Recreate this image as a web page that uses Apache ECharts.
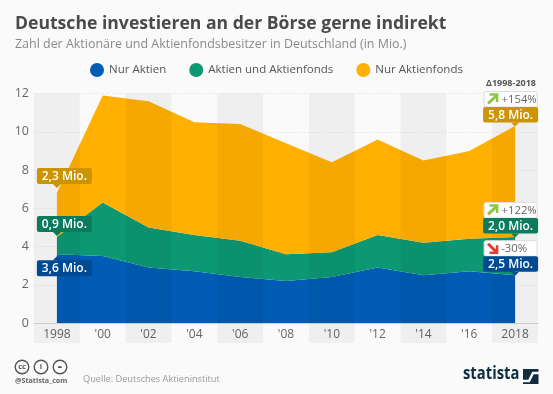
<!DOCTYPE html>
<html><head><meta charset="utf-8">
<style>html,body{margin:0;padding:0;background:#fafafa}#c{width:553px;height:394px}</style>
<script src="https://cdn.jsdelivr.net/npm/echarts@6/dist/echarts.min.js"></script></head>
<body><div id="c"></div>
<script>
const categories=['1998',"'00","'02","'04","'06","'08","'10","'12","'14","'16",'2018'];
const nurAktien=[3.6,3.5,2.9,2.7,2.4,2.2,2.4,2.9,2.5,2.7,2.5];
const aktienUndFonds=[0.9,2.8,2.1,1.9,1.9,1.4,1.3,1.7,1.7,1.7,2.0];
const nurFonds=[2.3,5.6,6.6,5.9,6.1,5.8,4.7,5.0,4.3,4.6,5.8];
const yTicks=[0,2,4,6,8,10,12];
const bandIndexes=[0,2,4,6,8,10];
const seriesNames=['Nur Aktien','Aktien und Aktienfonds','Nur Aktienfonds'];
const colors=['#005cb4','#0c9873','#ffb000'];
const darkColors=['#004a92','#0b7a5d','#cc9400'];
// [category index, stack top, text, colour index]
const startLabels=[[0,3.6,'3,6 Mio.',0],[0,4.5,'0,9 Mio.',1],[0,6.8,'2,3 Mio.',2]];
const endLabels=[[10,2.5,'2,5 Mio.',0,'-30%'],[10,4.5,'2,0 Mio.',1,'+122%'],[10,10.3,'5,8 Mio.',2,'+154%']];

const FONT='"Open Sans"';
const chart=echarts.init(document.getElementById('c'),null,{renderer:'canvas'});

function bandItem(p,api){
  const c=api.coord([api.value(0),12]);
  const b=api.coord([api.value(0),0]);
  const w=api.size([1,0])[0];
  return {type:'rect',shape:{x:c[0]-w/2,y:c[1],width:w,height:b[1]-c[1]+20},
    style:{fill:'rgba(0,0,0,0.045)'},silent:true};
}
function tag(x,yTop,w,h,text,fill,pointerUp,px){
  const kids=[{type:'rect',shape:{x:x,y:yTop,width:w,height:h,r:2},style:{fill:fill}},
    {type:'text',style:{x:x+w/2,y:yTop+h/2+0.5,text:text,fill:'#fff',font:'600 12px '+FONT,align:'center',verticalAlign:'middle'}}];
  const t=pointerUp?[[px-4,yTop],[px+4,yTop],[px,yTop-4]]:[[px-4,yTop+h],[px+4,yTop+h],[px,yTop+h+4]];
  kids.push({type:'polygon',shape:{points:t},style:{fill:fill}});
  return kids;
}
function startItem(p,api){
  const v=startLabels[p.dataIndex];
  const c=api.coord([v[0],v[1]]);
  const up=v[3]===0;
  const y=up?c[1]+6:c[1]-(v[3]===2?25:21);
  return {type:'group',children:tag(c[0]-20,y,55,16,v[2],darkColors[v[3]],up,c[0])};
}
function endItem(p,api){
  const v=endLabels[p.dataIndex];
  const c=api.coord([v[0],v[1]]);
  const y=c[1]-19;
  const x=c[0]-32;
  const up=v[4][0]==='+';
  const kids=tag(x,y,55,15.5,v[2],darkColors[v[3]],false,c[0]);
  const by=y-15.5;
  kids.unshift({type:'rect',shape:{x:x+1,y:by,width:53,height:15.5,r:2},style:{fill:'#fff',stroke:'#ddd',lineWidth:1}});
  kids.push({type:'text',style:{x:x+(up?36:31),y:by+8,text:v[4],fill:'#666',font:'11.3px '+FONT,align:'center',verticalAlign:'middle'}});
  const col=up?'#8cc63f':'#e63b2e';
  const ax=x+5, ay=by+3;
  const line=up?[[ax,ay+9],[ax+8,ay+1.5]]:[[ax,ay],[ax+8,ay+8]];
  const head=up?[[ax+1.5,ay],[ax+9,ay],[ax+9,ay+7.5]]:[[ax+9,ay+1.5],[ax+9,ay+9],[ax+1.5,ay+9]];
  kids.push({type:'polyline',shape:{points:line},style:{stroke:col,lineWidth:3,fill:null}});
  kids.push({type:'polyline',shape:{points:head},style:{stroke:col,lineWidth:2.5,fill:null}});
  return {type:'group',children:kids};
}
const areaSeries=[nurAktien,aktienUndFonds,nurFonds].map((d,i)=>({
  name:seriesNames[i],type:'line',stack:'s',data:d,symbol:'none',silent:true,
  lineStyle:{width:0},itemStyle:{color:colors[i]},areaStyle:{color:colors[i],opacity:1},z:2
}));
function icon(cx,text){
  return [{type:'circle',shape:{cx:cx,cy:367,r:6.8},style:{fill:'none',stroke:'#555',lineWidth:1.4}},
    {type:'text',style:{x:cx,y:367,text:text,fill:'#555',font:'bold 7.5px '+FONT,align:'center',verticalAlign:'middle'}}];
}
chart.setOption({
  animation:false,
  backgroundColor:'#fafafa',
  textStyle:{fontFamily:FONT},
  grid:{left:34,right:15,top:93.5,bottom:71},
  legend:{left:85,top:58,itemWidth:14,itemHeight:14,itemGap:23,icon:'circle',
    data:seriesNames,selectedMode:false,
    textStyle:{fontFamily:FONT,fontSize:11.5,color:'#555'}},
  xAxis:{type:'category',data:categories,boundaryGap:true,
    axisLine:{lineStyle:{color:'#d5d5d5',width:1}},axisTick:{show:false},
    axisLabel:{color:'#666',fontSize:12,margin:6,interval:0,fontFamily:FONT}},
  yAxis:{type:'value',min:0,max:12,interval:2,
    axisLine:{show:false},axisTick:{show:false},
    axisLabel:{color:'#666',fontSize:12.5,margin:5,fontFamily:FONT,
      formatter:v=>yTicks.includes(v)?String(v):''},
    splitLine:{show:false}},
  series:[...areaSeries,
    {type:'custom',data:bandIndexes.map(i=>[i]),renderItem:bandItem,encode:{x:0},z:3,clip:false,silent:true,
     markLine:{silent:true,symbol:'none',label:{show:false},z:1,
       lineStyle:{color:'rgba(0,0,0,0.11)',type:[1,2],width:1},
       data:yTicks.filter(v=>v>0).map(v=>({yAxis:v}))}},
    {type:'custom',data:startLabels.map(r=>[r[0],r[1]]),renderItem:startItem,z:5,clip:false,silent:true},
    {type:'custom',data:endLabels.map(r=>[r[0],r[1]]),renderItem:endItem,z:5,clip:false,silent:true}
  ],
  graphic:[
    {type:'text',left:15,top:15,style:{text:'Deutsche investieren an der Börse gerne indirekt',fill:'#4a4a4a',font:'bold 17.6px '+FONT}},
    {type:'text',left:15,top:38,style:{text:'Zahl der Aktionäre und Aktienfondsbesitzer in Deutschland (in Mio.)',fill:'#8a8a8a',font:'12.45px '+FONT}},
    {type:'text',left:486,top:79,style:{text:'Δ1998-2018',fill:'#555',font:'bold 9px '+FONT}},
    ...icon(22,'cc'),...icon(41,'i'),...icon(60,'='),
    {type:'text',left:15,top:377,style:{text:'@Statista_com',fill:'#666',font:'bold 7.2px '+FONT}},
    {type:'text',left:83,top:375,style:{text:'Quelle: Deutsches Aktieninstitut',fill:'#999',font:'9.2px '+FONT}},
    {type:'text',x:463,y:364,scaleX:0.8,style:{text:'statista',fill:'#0f2d40',font:'bold 18.5px "Open Sans"'}},
    {type:'rect',shape:{x:523,y:369,width:15.5,height:15},style:{fill:'#0f2d40'}},
    {type:'polyline',shape:{points:[[523,381],[529,381],[533,373],[539,373]]},style:{stroke:'#fafafa',lineWidth:2.4,fill:null}}
  ]
});
</script></body></html>
